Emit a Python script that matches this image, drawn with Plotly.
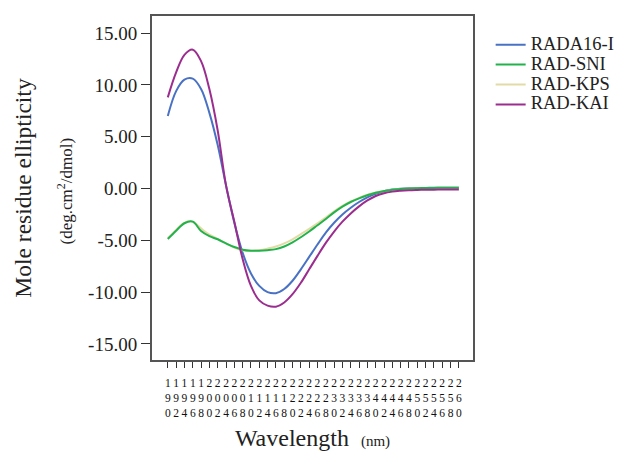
import plotly.graph_objects as go

# Wavelength grid (nm) and mean residue ellipticity for each peptide
wavelength = list(range(190, 262, 2))

rada16_i = [7.0, 9.4, 10.5, 10.6, 9.6, 7.3, 4.2, 0.3, -3.3, -6.2, -8.2, -9.4,
            -10.0, -10.1, -9.7, -8.9, -7.8, -6.6, -5.4, -4.25, -3.3, -2.5,
            -1.85, -1.3, -0.85, -0.5, -0.25, -0.1, -0.02, 0.03, 0.05, 0.06,
            0.07, 0.07, 0.07, 0.07]

rad_sni = [-4.87, -4.07, -3.35, -3.2, -4.1, -4.6, -4.9, -5.3, -5.65, -5.9,
           -6.0, -6.0, -5.95, -5.85, -5.6, -5.2, -4.7, -4.15, -3.55, -2.95,
           -2.3, -1.75, -1.3, -0.95, -0.65, -0.4, -0.25, -0.12, -0.05, 0.0,
           0.03, 0.05, 0.06, 0.07, 0.07, 0.07]

rad_kps = [-4.8, -4.0, -3.3, -3.2, -3.85, -4.45, -4.85, -5.3, -5.7, -5.95,
           -6.0, -5.95, -5.8, -5.6, -5.3, -4.9, -4.4, -3.9, -3.35, -2.8,
           -2.2, -1.68, -1.25, -0.9, -0.6, -0.38, -0.24, -0.12, -0.05, 0.0,
           0.03, 0.05, 0.06, 0.07, 0.07, 0.07]

rad_kai = [8.8, 11.2, 12.9, 13.4, 12.3, 9.6, 5.6, 0.3, -3.2, -6.8, -9.4,
           -10.8, -11.3, -11.4, -11.0, -10.2, -9.1, -7.8, -6.5, -5.25, -4.15,
           -3.2, -2.4, -1.72, -1.15, -0.72, -0.45, -0.3, -0.22, -0.17, -0.14,
           -0.12, -0.11, -0.1, -0.1, -0.1]

y_ticks = [15, 10, 5, 0, -5, -10, -15]
y_tick_text = ["15.00", "10.00", "5.00", "0.00", "-5.00", "-10.00", "-15.00"]

# x tick labels are written as vertically stacked digits
x_tick_text = ["<br>".join(str(w)) for w in wavelength]

series = [
    ("RADA16-I", rada16_i, "#4a72c4", 1),
    ("RAD-KPS", rad_kps, "#e3dba6", 3),
    ("RAD-SNI", rad_sni, "#22b24c", 2),
    ("RAD-KAI", rad_kai, "#9b2d8f", 4),
]

serif = "Liberation Serif"

fig = go.Figure()
for name, values, color, rank in series:
    fig.add_trace(go.Scatter(
        x=wavelength, y=values, mode="lines",
        name=f"<span style='font-size:18.5px'>{name}</span>",
        line=dict(color=color, width=2, shape="spline", smoothing=1.0),
        legendrank=rank,
    ))

fig.update_layout(
    width=625, height=455,
    margin=dict(l=152, r=152, t=16, b=95, autoexpand=False),
    paper_bgcolor="white", plot_bgcolor="white",
    font=dict(family=serif, color="#222222"),
    showlegend=True,
    legend=dict(
        x=1.055, y=0.96, xanchor="left", yanchor="top",
        font=dict(family=serif, size=13, color="#222222"),
        bgcolor="rgba(0,0,0,0)", borderwidth=0,
        tracegroupgap=0, itemwidth=30,
    ),
    annotations=[dict(
        text="(deg.cm<sup>2</sup>/dmol)",
        xref="paper", yref="paper", x=-0.271, y=0.49,
        xanchor="center", yanchor="middle", textangle=-90,
        showarrow=False, font=dict(family=serif, size=17, color="#222222"),
    )],
)

fig.update_xaxes(
    range=[186.2, 263.4],
    tickmode="array", tickvals=wavelength, ticktext=x_tick_text,
    tickangle=0,
    ticks="outside", ticklen=6, tickwidth=1, tickcolor="#333333",
    ticklabelstandoff=5,
    tickfont=dict(family=serif, size=11.5, color="#111111"),
    showline=True, linecolor="#555555", linewidth=2, mirror=True,
    showgrid=False, zeroline=False,
    title=dict(
        text="Wavelength&nbsp;&nbsp;<span style='font-size:15px'>(nm)</span>",
        font=dict(family=serif, size=24, color="#222222"),
        standoff=11,
    ),
)

fig.update_yaxes(
    range=[-16.55, 16.65],
    tickmode="array", tickvals=y_ticks, ticktext=y_tick_text,
    ticks="outside", ticklen=9, tickwidth=1, tickcolor="#333333",
    tickfont=dict(family=serif, size=19, color="#222222"),
    showline=True, linecolor="#555555", linewidth=2, mirror=True,
    showgrid=False, zeroline=False,
    title=dict(
        text="Mole residue ellipticity",
        font=dict(family=serif, size=23.5, color="#222222"),
        standoff=50,
    ),
)

fig.write_html("out.html")
